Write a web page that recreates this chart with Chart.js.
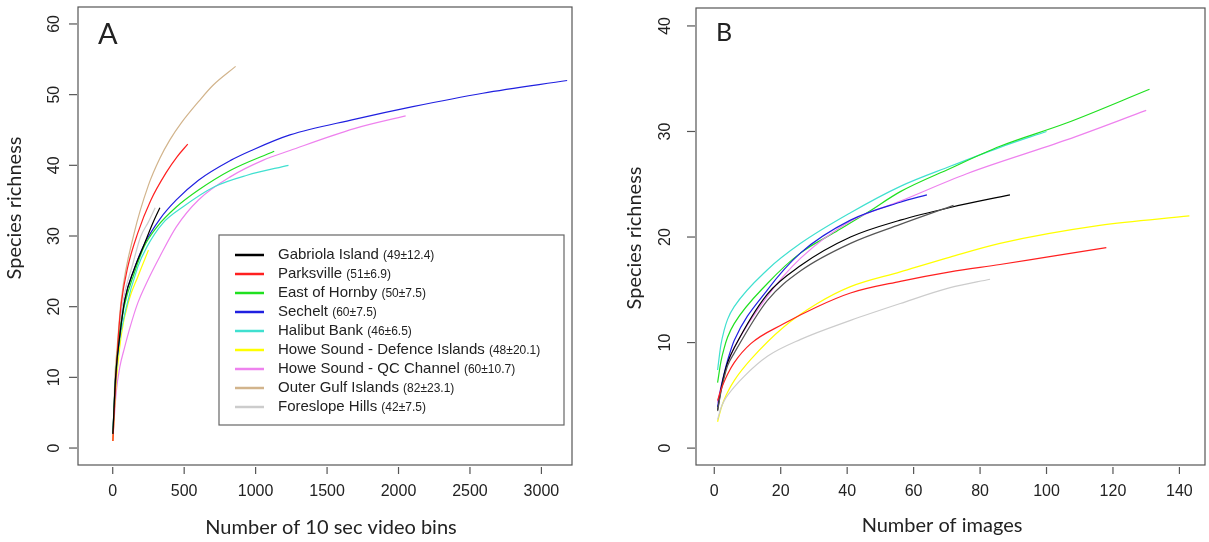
<!DOCTYPE html>
<html>
<head>
<meta charset="utf-8">
<script src="https://cdn.jsdelivr.net/npm/chart.js@4.4.0/dist/chart.umd.min.js"></script>
<style>
  body { margin: 0; background: #fff; }
  #wrap { position: relative; width: 1209px; height: 542px; }
  canvas { position: absolute; top: 0; }
</style>
</head>
<body>
<div id="wrap">
  <canvas id="panelA" width="600" height="542" style="left:0"></canvas>
  <canvas id="panelB" width="609" height="542" style="left:600px"></canvas>
</div>
<script>
// sites, legend stats (mean±sd) and line colours
const siteNames = ["Gabriola Island", "Parksville", "East of Hornby", "Sechelt", "Halibut Bank",
  "Howe Sound - Defence Islands", "Howe Sound - QC Channel", "Outer Gulf Islands", "Foreslope Hills"];
const siteStats = ["(49±12.4)", "(51±6.9)", "(50±7.5)", "(60±7.5)", "(46±6.5)",
  "(48±20.1)", "(60±10.7)", "(82±23.1)", "(42±7.5)"];
const siteColors = ["#000000", "#ff2020", "#20e020", "#2020e0", "#40e0d0",
  "#ffff00", "#ee82ee", "#d2b48c", "#cccccc"];

// tick labels
const xTicksA = [0, 500, 1000, 1500, 2000, 2500, 3000];
const yTicksA = [0, 10, 20, 30, 40, 50, 60];
const xTicksB = [0, 20, 40, 60, 80, 100, 120, 140];
const yTicksB = [0, 10, 20, 30, 40];

// Panel A: [number of 10 sec video bins, species richness]
const gabriolaA = [[1,2],[20,10],[50,16],[85,21],[150,25.3],[220,28.8],[280,31.8],[330,34]];
const parksvilleA = [[1,1],[20,9],[40,16],[60,20.5],[105,25.6],[175,30.4],[265,35],[375,39],[450,41.2],[525,43]];
const hornbyA = [[1,2],[20,10],[40,15],[80,20],[150,24.7],[220,28.5],[310,31.3],[445,34.1],[600,36.5],[825,39.3],[1130,42]];
const secheltA = [[1,2],[20,10],[50,16],[85,21],[150,25.3],[220,28.8],[330,32.4],[445,35.1],[600,37.9],[825,40.7],[970,42.1],[1240,44.3],[1690,46.5],[2100,48.3],[2590,50.2],[3180,52]];
const halibutA = [[1,2],[20,9],[40,14],[90,19.5],[175,25.6],[240,28.5],[350,31.8],[490,34.1],[715,37],[940,38.6],[1230,40]];
const defenceA = [[1,1],[20,8],[60,16],[115,21],[175,24.2],[250,28]];
const qcChannelA = [[1,1],[10,4],[25,8],[50,11.5],[80,14],[120,17],[175,20.5],[240,23.5],[330,27.1],[445,31.3],[600,35.1],[825,38.4],[1050,40.7],[1240,42.1],[1690,45.2],[2050,47]];
const outerGulfA = [[1,1],[15,10],[30,14],[60,21],[150,30.4],[250,37.2],[330,41],[400,43.6],[480,46],[600,49],[700,51.3],[860,54]];
const foreslopeA = [[1,1],[20,9],[40,15],[70,20.5],[140,26],[195,29.9],[250,32],[297,34]];

// Panel B: [number of images, species richness]
const gabriolaB = [[1,3.6],[2,5.5],[3,7],[4,8.1],[6,9.5],[16,14.6],[26,17.3],[41,20],[56,21.6],[71,22.8],[89,24]];
const gabriolaB2 = [[1,3.5],[2,5.3],[3,6.7],[4,7.8],[6,9],[16,14],[26,16.8],[41,19.4],[56,21.2],[72,23]];
const parksvilleB = [[1,4.5],[2,5.5],[3,6.3],[4,7],[6,8.1],[11,9.9],[21,11.8],[31,13.4],[41,14.7],[56,15.8],[71,16.7],[86,17.4],[100,18.1],[118,19]];
const hornbyB = [[1,6.2],[2,8.2],[3,9.5],[4,10.5],[6,11.8],[16,15.6],[26,18.5],[36,20.4],[46,22.3],[56,24.3],[71,26.5],[86,28.6],[106,30.8],[131,34]];
const secheltB = [[1,3.9],[2,5.7],[3,7.1],[4,8.3],[6,10.2],[16,15],[26,18.5],[41,21.6],[56,23.3],[64,24]];
const halibutB = [[1,7.4],[2,9.8],[3,11.2],[4,12.2],[6,13.4],[16,16.9],[26,19.4],[41,22.3],[56,24.8],[71,26.7],[86,28.5],[100,30]];
const defenceB = [[1,2.5],[2,3.7],[3,4.6],[4,5.3],[6,6.4],[11,8.4],[21,11.5],[31,13.7],[41,15.3],[56,16.7],[71,18.1],[86,19.4],[116,21.1],[143,22]];
const qcChannelB = [[1,4.3],[2,5.8],[3,7],[4,8],[6,9.5],[16,14.4],[26,18],[41,21.5],[56,23.4],[76,26],[106,29.2],[130,32]];
const foreslopeB = [[1,2.7],[2,3.8],[3,4.5],[4,5],[9,6.8],[16,8.7],[26,10.3],[41,12.1],[56,13.7],[71,15.2],[83,16]];

function toDataset(points, color, label) {
  return {
    label: label,
    data: points.map(p => ({x: p[0], y: p[1]})),
    borderColor: color,
    borderWidth: 1.2,
    pointRadius: 0,
    fill: false,
    cubicInterpolationMode: 'monotone'
  };
}

function line(ctx, x1, y1, x2, y2) {
  ctx.beginPath();
  ctx.moveTo(x1, y1);
  ctx.lineTo(x2, y2);
  ctx.stroke();
}

// R style box, ticks, labels and legend
const decor = {
  id: 'decor',
  afterDraw(chart, args, o) {
    const ctx = chart.ctx;
    const a = chart.chartArea;
    const x = chart.scales.x, y = chart.scales.y;
    ctx.save();
    ctx.strokeStyle = '#555';
    ctx.lineWidth = 1.2;
    ctx.strokeRect(a.left, a.top, a.right - a.left, a.bottom - a.top);

    ctx.fillStyle = '#222';
    ctx.font = '16px "Liberation Sans", Arial, sans-serif';
    ctx.textAlign = 'center';
    ctx.textBaseline = 'middle';
    o.xTicks.forEach(v => {
      const px = x.getPixelForValue(v);
      line(ctx, px, a.bottom + 2, px, a.bottom + 9);
      ctx.fillText(String(v), px, a.bottom + 27);
    });
    o.yTicks.forEach(v => {
      const py = y.getPixelForValue(v);
      line(ctx, a.left - 9, py, a.left - 1, py);
      ctx.save();
      ctx.translate(a.left - o.yLabelGap, py);
      ctx.rotate(-Math.PI / 2);
      ctx.fillText(String(v), 0, 0);
      ctx.restore();
    });

    ctx.font = '20px Lato, "Open Sans", sans-serif';
    ctx.fillText(o.xTitle, o.xTitlePos[0], o.xTitlePos[1]);
    ctx.save();
    ctx.translate(o.yTitlePos[0], o.yTitlePos[1]);
    ctx.rotate(-Math.PI / 2);
    ctx.fillText('Species richness', 0, 0);
    ctx.restore();

    ctx.font = o.letterSize + 'px Lato, sans-serif';
    ctx.textAlign = 'left';
    ctx.textBaseline = 'alphabetic';
    ctx.fillText(o.letter, a.left + 20, o.letterBase);

    if (o.legend) {
      const L = o.legend;
      ctx.strokeStyle = '#666';
      ctx.lineWidth = 1.2;
      ctx.strokeRect(L.left, L.top, L.width, L.height);
      ctx.textBaseline = 'middle';
      siteNames.forEach((name, i) => {
        const ry = L.top + 20 + i * 19;
        ctx.strokeStyle = siteColors[i];
        ctx.lineWidth = 2.5;
        line(ctx, L.left + 16, ry, L.left + 45, ry);
        ctx.fillStyle = '#222';
        ctx.font = '15px "Liberation Sans", Arial, sans-serif';
        ctx.fillText(name, L.left + 59, ry);
        const w = ctx.measureText(name + ' ').width;
        ctx.font = '12px "Liberation Sans", Arial, sans-serif';
        ctx.fillText(siteStats[i], L.left + 59 + w, ry + 1);
      });
    }
    ctx.restore();
  }
};

function makePanel(id, datasets, pad, xr, yr, deco) {
  return new Chart(document.getElementById(id), {
    type: 'line',
    data: { datasets: datasets },
    options: {
      responsive: false,
      animation: false,
      layout: { padding: pad },
      plugins: { legend: { display: false }, tooltip: { enabled: false }, decor: deco },
      scales: {
        x: { type: 'linear', min: xr[0], max: xr[1], display: false },
        y: { type: 'linear', min: yr[0], max: yr[1], display: false }
      }
    },
    plugins: [decor]
  });
}

const seriesA = [gabriolaA, parksvilleA, hornbyA, secheltA, halibutA, defenceA, qcChannelA, outerGulfA, foreslopeA];
makePanel('panelA',
  seriesA.map((s, i) => toDataset(s, siteColors[i], siteNames[i])),
  { left: 78, top: 7, right: 28, bottom: 77 },
  [-243, 3214], [-2.4, 62.4],
  { xTicks: xTicksA, yTicks: yTicksA, yLabelGap: 23,
    xTitle: 'Number of 10 sec video bins', xTitlePos: [331, 528], yTitlePos: [15, 208],
    letter: 'A', letterSize: 29, letterBase: 44,
    legend: { left: 219, top: 235, width: 345, height: 190 } });

const seriesB = [foreslopeB, parksvilleB, defenceB, gabriolaB2, gabriolaB, secheltB, qcChannelB, hornbyB, halibutB];
const colorsB = ['#cccccc', '#ff2020', '#ffff00', '#555555', '#000000', '#2020e0', '#ee82ee', '#20e020', '#40e0d0'];
makePanel('panelB',
  seriesB.map((s, i) => toDataset(s, colorsB[i], '')),
  { left: 96, top: 8, right: 4, bottom: 77 },
  [-5.5, 147.7], [-1.6, 41.7],
  { xTicks: xTicksB, yTicks: yTicksB, yLabelGap: 30,
    xTitle: 'Number of images', xTitlePos: [342, 526], yTitlePos: [35, 238],
    letter: 'B', letterSize: 25, letterBase: 41 });
</script>
</body>
</html>
